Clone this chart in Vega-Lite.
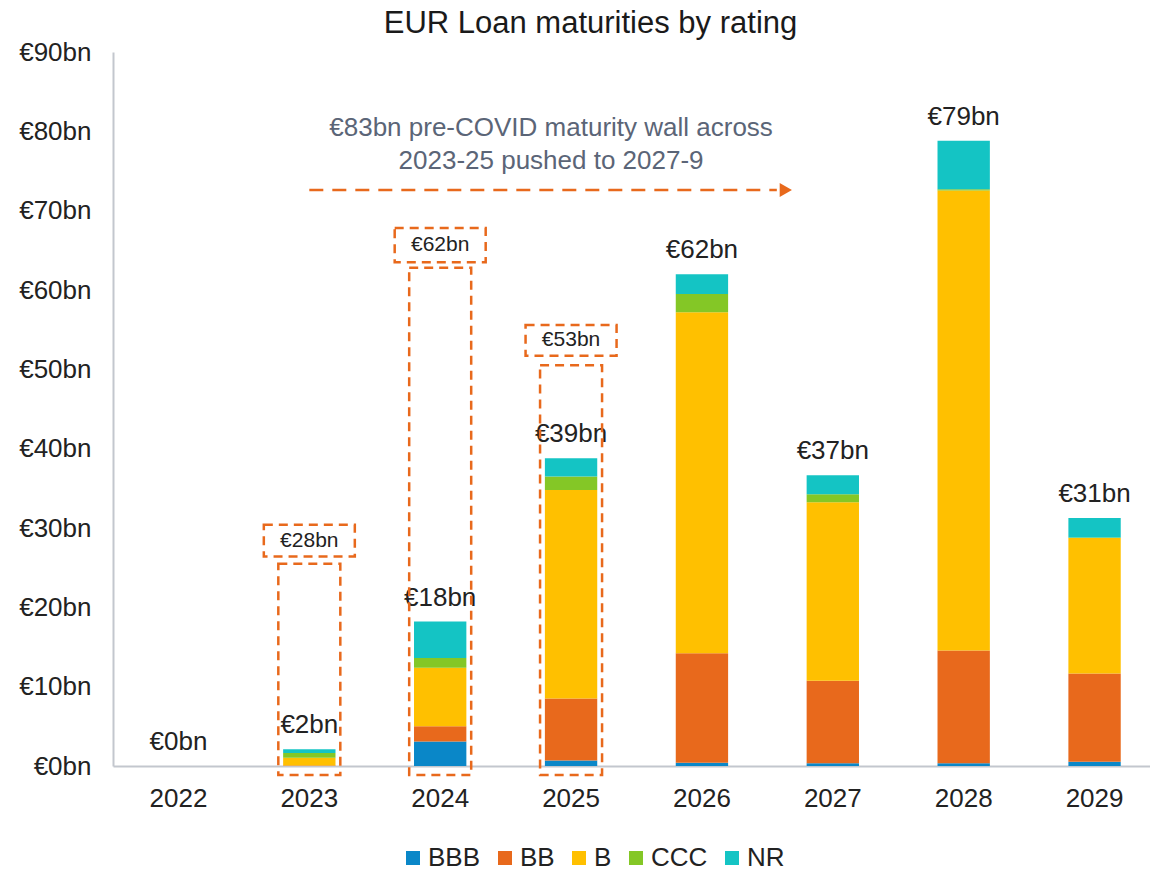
{
  "$schema": "https://vega.github.io/schema/vega-lite/v6.json",
  "autosize": "none",
  "padding": {"left": 113, "top": 52, "right": 0, "bottom": 104},
  "width": 1037,
  "height": 714,
  "title": {"text": "EUR Loan maturities by rating", "fontSize": 31, "fontWeight": "normal", "color": "#1a1a1a", "dx": -41, "offset": -1, "font": "Liberation Sans"},
  "datasets": {
    "loans": [
      {"year": "2022", "rating": "BBB", "value": 0}, {"year": "2022", "rating": "BB", "value": 0}, {"year": "2022", "rating": "B", "value": 0}, {"year": "2022", "rating": "CCC", "value": 0}, {"year": "2022", "rating": "NR", "value": 0},
      {"year": "2023", "rating": "BBB", "value": 0}, {"year": "2023", "rating": "BB", "value": 0.05}, {"year": "2023", "rating": "B", "value": 1.0}, {"year": "2023", "rating": "CCC", "value": 0.6}, {"year": "2023", "rating": "NR", "value": 0.45},
      {"year": "2024", "rating": "BBB", "value": 3.1}, {"year": "2024", "rating": "BB", "value": 1.9}, {"year": "2024", "rating": "B", "value": 7.4}, {"year": "2024", "rating": "CCC", "value": 1.2}, {"year": "2024", "rating": "NR", "value": 4.6},
      {"year": "2025", "rating": "BBB", "value": 0.7}, {"year": "2025", "rating": "BB", "value": 7.8}, {"year": "2025", "rating": "B", "value": 26.3}, {"year": "2025", "rating": "CCC", "value": 1.7}, {"year": "2025", "rating": "NR", "value": 2.3},
      {"year": "2026", "rating": "BBB", "value": 0.4}, {"year": "2026", "rating": "BB", "value": 13.8}, {"year": "2026", "rating": "B", "value": 43.0}, {"year": "2026", "rating": "CCC", "value": 2.3}, {"year": "2026", "rating": "NR", "value": 2.5},
      {"year": "2027", "rating": "BBB", "value": 0.35}, {"year": "2027", "rating": "BB", "value": 10.4}, {"year": "2027", "rating": "B", "value": 22.5}, {"year": "2027", "rating": "CCC", "value": 1.0}, {"year": "2027", "rating": "NR", "value": 2.4},
      {"year": "2028", "rating": "BBB", "value": 0.35}, {"year": "2028", "rating": "BB", "value": 14.2}, {"year": "2028", "rating": "B", "value": 58.0}, {"year": "2028", "rating": "CCC", "value": 0.15}, {"year": "2028", "rating": "NR", "value": 6.1},
      {"year": "2029", "rating": "BBB", "value": 0.55}, {"year": "2029", "rating": "BB", "value": 11.1}, {"year": "2029", "rating": "B", "value": 17.1}, {"year": "2029", "rating": "CCC", "value": 0.05}, {"year": "2029", "rating": "NR", "value": 2.45}
    ],
    "precovid": [
      {"year": "2023", "top": 25.5, "bottom": -1.13, "boxTop": 30.4, "boxBottom": 26.4, "mid": 28.4, "label": "€28bn"},
      {"year": "2024", "top": 62.8, "bottom": -1.13, "boxTop": 67.8, "boxBottom": 63.5, "mid": 65.65, "label": "€62bn"},
      {"year": "2025", "top": 50.5, "bottom": -1.13, "boxTop": 55.6, "boxBottom": 51.7, "mid": 53.65, "label": "€53bn"}
    ],
    "arrow": [{"from": "2023", "to": "2027", "level": 72.6}],
    "arrowhead": [{"year": "2027", "level": 72.6}],
    "note": [{"year": "2025", "level": 80.4, "text": "€83bn pre-COVID maturity wall across\n2023-25 pushed to 2027-9"}]
  },
  "layer": [
    {
      "data": {"name": "loans"},
      "transform": [{"calculate": "indexof(['BBB','BB','B','CCC','NR'], datum.rating)", "as": "ord"}],
      "mark": {"type": "bar"},
      "encoding": {
        "x": {"field": "year", "type": "nominal",
              "scale": {"domain": ["2022","2023","2024","2025","2026","2027","2028","2029"], "range": [0, 1047], "paddingInner": 0.6, "paddingOuter": 0.3},
              "axis": {"title": null, "labelAngle": 0, "labelFontSize": 26, "labelColor": "#222222", "labelPadding": 19, "ticks": false, "domainColor": "#c3c7ce", "domainWidth": 2, "grid": false}},
        "y": {"field": "value", "type": "quantitative", "aggregate": "sum", "stack": "zero",
              "scale": {"domain": [0, 90], "nice": false},
              "axis": {"title": null, "values": [0,10,20,30,40,50,60,70,80,90], "format": "$.0f", "labelFontSize": 26, "labelColor": "#222222", "labelPadding": 22, "ticks": false, "domainColor": "#c3c7ce", "domainWidth": 2, "grid": false}},
        "color": {"field": "rating", "type": "nominal",
                  "scale": {"domain": ["BBB","BB","B","CCC","NR"], "range": ["#0a87c8","#e8691c","#ffc000","#84c726","#14c4c4"]},
                  "legend": {"title": null, "orient": "none", "direction": "horizontal", "legendX": 287, "legendY": 793, "symbolType": "square", "symbolSize": 196, "symbolStrokeWidth": 0, "labelFontSize": 26, "labelColor": "#222222", "labelOffset": 2, "columnPadding": 11, "padding": 0}},
        "order": {"field": "ord", "type": "quantitative", "sort": "ascending"}
      }
    },
    {
      "data": {"name": "loans"},
      "transform": [{"aggregate": [{"op": "sum", "field": "value", "as": "total"}], "groupby": ["year"]}],
      "mark": {"type": "text", "fontSize": 26, "color": "#222222", "baseline": "alphabetic", "dy": -16},
      "encoding": {
        "x": {"field": "year", "type": "nominal", "axis": {"title": null}},
        "y": {"field": "total", "type": "quantitative", "axis": {"title": null}},
        "text": {"field": "total", "type": "quantitative", "format": "$.0f"}
      }
    },
    {
      "data": {"name": "precovid"},
      "mark": {"type": "bar", "fill": null, "fillOpacity": 0, "stroke": "#e8691c", "strokeWidth": 2.5, "strokeDash": [9, 6], "size": 62},
      "encoding": {
        "x": {"field": "year", "type": "nominal", "axis": {"title": null}},
        "y": {"field": "top", "type": "quantitative", "axis": {"title": null}},
        "y2": {"field": "bottom"}
      }
    },
    {
      "data": {"name": "precovid"},
      "mark": {"type": "bar", "fill": null, "fillOpacity": 0, "stroke": "#e8691c", "strokeWidth": 2.5, "strokeDash": [9, 6], "size": 91},
      "encoding": {
        "x": {"field": "year", "type": "nominal", "axis": {"title": null}},
        "y": {"field": "boxTop", "type": "quantitative", "axis": {"title": null}},
        "y2": {"field": "boxBottom"}
      }
    },
    {
      "data": {"name": "precovid"},
      "mark": {"type": "text", "fontSize": 21, "color": "#222222", "baseline": "middle"},
      "encoding": {
        "x": {"field": "year", "type": "nominal", "axis": {"title": null}},
        "y": {"field": "mid", "type": "quantitative", "axis": {"title": null}},
        "text": {"field": "label"}
      }
    },
    {
      "data": {"name": "arrow"},
      "mark": {"type": "rule", "color": "#e8691c", "strokeWidth": 2.5, "strokeDash": [14, 9], "x2Offset": -56},
      "encoding": {
        "x": {"field": "from", "type": "nominal", "axis": {"title": null}},
        "x2": {"field": "to"},
        "y": {"field": "level", "type": "quantitative", "axis": {"title": null}}
      }
    },
    {
      "data": {"name": "arrowhead"},
      "mark": {"type": "point", "shape": "triangle-right", "filled": true, "color": "#e8691c", "opacity": 1, "size": 200, "xOffset": -47},
      "encoding": {
        "x": {"field": "year", "type": "nominal", "axis": {"title": null}},
        "y": {"field": "level", "type": "quantitative", "axis": {"title": null}}
      }
    },
    {
      "data": {"name": "note"},
      "mark": {"type": "text", "fontSize": 26, "color": "#5b6577", "baseline": "middle", "align": "center", "lineBreak": "\n", "lineHeight": 33, "dx": -20},
      "encoding": {
        "x": {"field": "year", "type": "nominal", "axis": {"title": null}},
        "y": {"field": "level", "type": "quantitative", "axis": {"title": null}},
        "text": {"field": "text"}
      }
    }
  ],
  "config": {
    "font": "Liberation Sans",
    "view": {"stroke": null},
    "locale": {"number": {"decimal": ".", "thousands": ",", "grouping": [3], "currency": ["€", "bn"]}}
  }
}
